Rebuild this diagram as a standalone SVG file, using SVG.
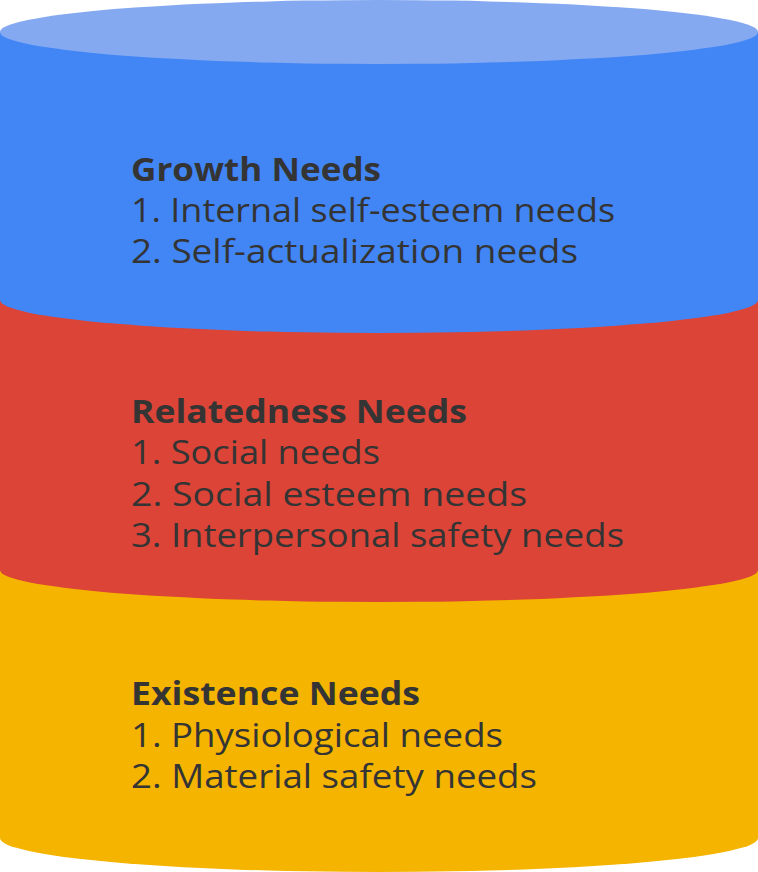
<svg xmlns="http://www.w3.org/2000/svg" width="758" height="872" viewBox="0 0 758 872">
<style>
text{font-family:"Open Sans","Noto Sans","Liberation Sans",sans-serif;font-size:32px;fill:#343434}
.h{font-weight:700}
</style>
<rect width="758" height="872" fill="#ffffff"/>
<g id="existence">
<path d="M0,560 L0,838 A379,34 0 0 0 758,838 L758,560 Z" fill="#f4b400"/>
<text class="h" x="131" y="705" textLength="289" lengthAdjust="spacingAndGlyphs">Existence Needs</text>
<text x="131" y="747" textLength="372" lengthAdjust="spacingAndGlyphs">1. Physiological needs</text>
<text x="131" y="788" textLength="406" lengthAdjust="spacingAndGlyphs">2. Material safety needs</text>
</g>
<g id="relatedness">
<path d="M0,290 L0,570 A379,32 0 0 0 758,570 L758,290 Z" fill="#db4437"/>
<text class="h" x="131" y="423" textLength="336" lengthAdjust="spacingAndGlyphs">Relatedness Needs</text>
<text x="131" y="464" textLength="249" lengthAdjust="spacingAndGlyphs">1. Social needs</text>
<text x="131" y="506" textLength="396" lengthAdjust="spacingAndGlyphs">2. Social esteem needs</text>
<text x="131" y="547" textLength="493" lengthAdjust="spacingAndGlyphs">3. Interpersonal safety needs</text>
</g>
<g id="growth">
<path d="M0,32 L0,300 A379,33 0 0 0 758,300 L758,32 Z" fill="#4286f5"/>
<ellipse cx="379" cy="32" rx="379" ry="32" fill="#84a9f1"/>
<text class="h" x="131" y="181" textLength="250" lengthAdjust="spacingAndGlyphs">Growth Needs</text>
<text x="131" y="222" textLength="484" lengthAdjust="spacingAndGlyphs">1. Internal self-esteem needs</text>
<text x="131" y="263" textLength="447" lengthAdjust="spacingAndGlyphs">2. Self-actualization needs</text>
</g>
<g id="connectors"></g>
</svg>
